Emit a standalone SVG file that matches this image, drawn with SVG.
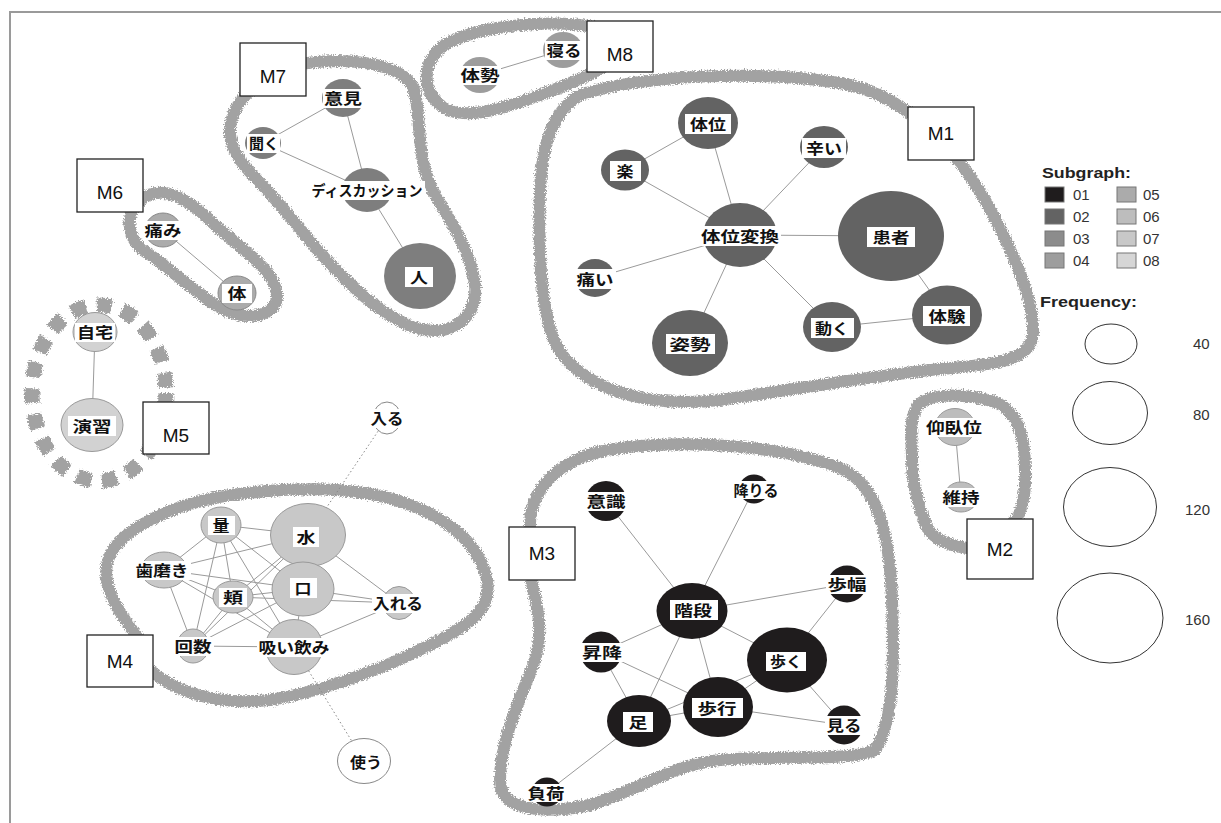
<svg xmlns="http://www.w3.org/2000/svg" width="1221" height="823" viewBox="0 0 1221 823">
<style>
.frame{stroke:#9a9a9a;stroke-width:2;fill:none}
.hull{fill:none;stroke:#a2a2a2;stroke-width:12;stroke-linecap:round;stroke-linejoin:round}
.hull5{fill:none;stroke:#a2a2a2;stroke-width:15;stroke-dasharray:15 11}
.e{stroke:#9a9a9a;stroke-width:1;fill:none}
.ed{stroke:#888;stroke-width:1;stroke-dasharray:1.5 2.5;fill:none}
.c1{fill:#1f1c1d}
.c2{fill:#636363}
.c3{fill:#7e7e7e}
.c4{fill:#9d9d9d}
.c5{fill:#ababab;stroke:#8a8a8a;stroke-width:1}
.c6{fill:#bdbdbd;stroke:#999;stroke-width:1}
.c7{fill:#c8c8c8;stroke:#999;stroke-width:1}
.c8{fill:#d2d2d2;stroke:#999;stroke-width:1}
.cw{fill:#fff;stroke:#888;stroke-width:1}
.lb{fill:#fff}
.t{font-family:"Noto Sans CJK JP","Noto Sans CJK SC",sans-serif;font-weight:bold;font-size:15px;fill:#111;text-anchor:middle}
.mbox{fill:#fff;stroke:#222;stroke-width:1.3}
.mt{font-family:"Liberation Sans",Arial,sans-serif;font-size:19px;fill:#111;text-anchor:middle}
.lg{font-family:"Liberation Sans",Arial,sans-serif;font-size:15px;fill:#333}
.lgb{font-family:"Liberation Sans",Arial,sans-serif;font-size:15px;font-weight:bold;fill:#222}
.sq{stroke:#777;stroke-width:1}
.fc{fill:#fff;stroke:#333;stroke-width:1}
</style>
<defs>
<filter id="rough" filterUnits="userSpaceOnUse" x="0" y="0" width="1221" height="823">
<feTurbulence type="fractalNoise" baseFrequency="0.7" numOctaves="2" seed="4" result="n"/>
<feDisplacementMap in="SourceGraphic" in2="n" scale="6" xChannelSelector="R" yChannelSelector="G"/>
</filter>
</defs>
<rect width="1221" height="823" fill="#fff"/>
<path class="frame" d="M10 823 V12 H1221"/>

<g id="hulls" filter="url(#rough)">
<path id="hull-M7" class="hull" d="M 262 80 C 275 68, 290 64, 300 64 C 340 58, 395 60, 412 85 C 422 105, 415 150, 430 185 C 445 215, 470 245, 475 285 C 478 315, 455 335, 425 330 C 395 325, 360 295, 333 267 C 310 243, 290 215, 265 188 C 245 168, 228 150, 230 128 C 232 105, 250 90, 262 80 Z"/>
<path id="hull-M6" class="hull" d="M 145 197 C 165 185, 190 200, 215 225 C 245 252, 275 270, 277 295 C 278 315, 250 322, 225 310 C 200 298, 175 272, 150 255 C 128 242, 120 215, 145 197 Z"/>
<path id="hull-M8" class="hull" d="M 600 28 C 550 18, 480 26, 448 43 C 425 56, 418 85, 440 105 C 460 122, 500 110, 540 95 C 565 86, 585 78, 605 66"/>
<path id="hull-M1" class="hull" d="M 580 95 C 640 75, 760 70, 840 83 C 900 93, 950 140, 985 200 C 1010 245, 1035 300, 1033 335 C 1030 365, 980 365, 930 370 C 860 378, 790 390, 720 400 C 650 408, 590 392, 560 352 C 540 320, 538 250, 540 190 C 542 140, 555 110, 580 95 Z"/>
<path id="hull-M2" class="hull" d="M 985 548 C 965 550, 935 545, 926 525 C 918 505, 912 480, 912 460 C 912 440, 908 420, 918 405 C 930 393, 965 393, 995 402 C 1020 412, 1025 440, 1025 470 C 1026 495, 1022 520, 1005 530"/>
<path id="hull-M4" class="hull" d="M 140 640 C 120 615, 100 585, 108 560 C 118 530, 170 505, 230 495 C 290 487, 360 485, 410 505 C 450 520, 480 545, 487 580 C 492 610, 470 625, 430 645 C 390 665, 330 690, 270 700 C 220 705, 180 695, 150 670"/>
<path id="hull-M3" class="hull" d="M 530 530 C 528 490, 560 455, 620 448 C 690 440, 780 445, 840 468 C 880 485, 890 540, 892 600 C 894 660, 895 720, 875 750 C 850 762, 780 755, 720 760 C 670 765, 640 790, 590 805 C 540 815, 500 810, 500 780 C 500 740, 520 700, 535 660 C 545 625, 535 600, 530 575"/>
<ellipse id="hull-M5" class="hull5" cx="99" cy="393" rx="67" ry="88"/>
</g>

<g id="connectors">
<line class="e" x1="708" y1="123" x2="625" y2="170"/>
<line class="e" x1="708" y1="123" x2="740" y2="235"/>
<line class="e" x1="625" y1="170" x2="740" y2="235"/>
<line class="e" x1="824" y1="147" x2="740" y2="235"/>
<line class="e" x1="740" y1="235" x2="891" y2="236"/>
<line class="e" x1="740" y1="235" x2="595" y2="278"/>
<line class="e" x1="740" y1="235" x2="690" y2="343"/>
<line class="e" x1="740" y1="235" x2="832" y2="327"/>
<line class="e" x1="832" y1="327" x2="947" y2="315"/>
<line class="e" x1="891" y1="236" x2="947" y2="315"/>
<line class="e" x1="343" y1="98" x2="263" y2="143"/>
<line class="e" x1="343" y1="98" x2="367" y2="190"/>
<line class="e" x1="263" y1="143" x2="367" y2="190"/>
<line class="e" x1="367" y1="190" x2="420" y2="276"/>
<line class="e" x1="163" y1="230" x2="237" y2="293"/>
<line class="e" x1="480" y1="75" x2="563" y2="50"/>
<line class="e" x1="955" y1="427" x2="961" y2="497"/>
<line class="e" x1="95" y1="332" x2="92" y2="425"/>
<line class="e" x1="221" y1="525" x2="308" y2="535"/>
<line class="e" x1="221" y1="525" x2="164" y2="570"/>
<line class="e" x1="221" y1="525" x2="233" y2="597"/>
<line class="e" x1="221" y1="525" x2="193" y2="646"/>
<line class="e" x1="221" y1="525" x2="303" y2="589"/>
<line class="e" x1="221" y1="525" x2="294" y2="647"/>
<line class="e" x1="164" y1="570" x2="308" y2="535"/>
<line class="e" x1="164" y1="570" x2="303" y2="589"/>
<line class="e" x1="164" y1="570" x2="233" y2="597"/>
<line class="e" x1="164" y1="570" x2="193" y2="646"/>
<line class="e" x1="164" y1="570" x2="294" y2="647"/>
<line class="e" x1="233" y1="597" x2="308" y2="535"/>
<line class="e" x1="233" y1="597" x2="303" y2="589"/>
<line class="e" x1="233" y1="597" x2="193" y2="646"/>
<line class="e" x1="233" y1="597" x2="294" y2="647"/>
<line class="e" x1="233" y1="597" x2="399" y2="603"/>
<line class="e" x1="193" y1="646" x2="303" y2="589"/>
<line class="e" x1="193" y1="646" x2="308" y2="535"/>
<line class="e" x1="193" y1="646" x2="294" y2="647"/>
<line class="e" x1="308" y1="535" x2="399" y2="603"/>
<line class="e" x1="303" y1="589" x2="399" y2="603"/>
<line class="e" x1="294" y1="647" x2="399" y2="603"/>
<line class="e" x1="303" y1="589" x2="294" y2="647"/>
<line class="ed" x1="387" y1="418" x2="308" y2="535"/>
<line class="ed" x1="294" y1="647" x2="364" y2="761"/>
<line class="e" x1="606" y1="501" x2="692" y2="611"/>
<line class="e" x1="754" y1="489" x2="692" y2="611"/>
<line class="e" x1="847" y1="584" x2="692" y2="611"/>
<line class="e" x1="847" y1="584" x2="787" y2="660"/>
<line class="e" x1="692" y1="611" x2="787" y2="660"/>
<line class="e" x1="692" y1="611" x2="601" y2="652"/>
<line class="e" x1="692" y1="611" x2="639" y2="721"/>
<line class="e" x1="692" y1="611" x2="718" y2="707"/>
<line class="e" x1="601" y1="652" x2="639" y2="721"/>
<line class="e" x1="601" y1="652" x2="718" y2="707"/>
<line class="e" x1="639" y1="721" x2="718" y2="707"/>
<line class="e" x1="639" y1="721" x2="787" y2="660"/>
<line class="e" x1="718" y1="707" x2="787" y2="660"/>
<line class="e" x1="787" y1="660" x2="844" y2="725"/>
<line class="e" x1="718" y1="707" x2="844" y2="725"/>
<line class="e" x1="639" y1="721" x2="547" y2="792"/>
</g>

<g id="n-taii"><ellipse class="c2" cx="708" cy="123" rx="30" ry="26"/><rect class="lb" x="685" y="114" width="46" height="20"/><text class="t" x="708" y="130" textLength="36" lengthAdjust="spacingAndGlyphs">体位</text></g>
<g id="n-tsurai"><ellipse class="c2" cx="824" cy="147" rx="24" ry="21"/><rect class="lb" x="802" y="138" width="44" height="20"/><text class="t" x="824" y="154" textLength="36" lengthAdjust="spacingAndGlyphs">辛い</text></g>
<g id="n-raku"><ellipse class="c2" cx="625" cy="170" rx="24" ry="20.5"/><rect class="lb" x="610" y="161" width="31" height="20"/><text class="t" x="625" y="177" textLength="17" lengthAdjust="spacingAndGlyphs">楽</text></g>
<g id="n-taiihenkan"><ellipse class="c2" cx="740" cy="235" rx="37" ry="32"/><rect class="lb" x="699" y="226" width="82" height="20"/><text class="t" x="740" y="242" textLength="78" lengthAdjust="spacingAndGlyphs">体位変換</text></g>
<g id="n-kanja"><ellipse class="c2" cx="891" cy="236" rx="53" ry="45"/><rect class="lb" x="867" y="227" width="48" height="20"/><text class="t" x="891" y="243" textLength="37" lengthAdjust="spacingAndGlyphs">患者</text></g>
<g id="n-itai"><ellipse class="c2" cx="595" cy="278" rx="20" ry="19"/><rect class="lb" x="574" y="269" width="42" height="20"/><text class="t" x="595" y="285" textLength="37" lengthAdjust="spacingAndGlyphs">痛い</text></g>
<g id="n-shisei"><ellipse class="c2" cx="690" cy="343" rx="38" ry="33"/><rect class="lb" x="666" y="334" width="49" height="20"/><text class="t" x="690" y="350" textLength="41" lengthAdjust="spacingAndGlyphs">姿勢</text></g>
<g id="n-ugoku"><ellipse class="c2" cx="832" cy="327" rx="29" ry="25"/><rect class="lb" x="811" y="318" width="43" height="20"/><text class="t" x="832" y="334" textLength="34" lengthAdjust="spacingAndGlyphs">動く</text></g>
<g id="n-taiken"><ellipse class="c2" cx="947" cy="315" rx="35" ry="29.5"/><rect class="lb" x="923" y="306" width="47" height="20"/><text class="t" x="947" y="322" textLength="37" lengthAdjust="spacingAndGlyphs">体験</text></g>

<g id="n-iken"><ellipse class="c3" cx="343" cy="98" rx="21" ry="19"/><rect class="lb" x="323" y="89" width="41" height="19"/><text class="t" x="343" y="104" textLength="38" lengthAdjust="spacingAndGlyphs">意見</text></g>
<g id="n-kiku"><ellipse class="c3" cx="263" cy="143" rx="18" ry="16"/><rect class="lb" x="247" y="134" width="33" height="19"/><text class="t" x="264" y="149" textLength="30" lengthAdjust="spacingAndGlyphs">聞く</text></g>
<g id="n-discussion"><ellipse class="c3" cx="367" cy="190" rx="25" ry="22"/><rect class="lb" x="310" y="181" width="115" height="19"/><text class="t" x="367" y="196" textLength="111" lengthAdjust="spacingAndGlyphs">ディスカッション</text></g>
<g id="n-hito"><ellipse class="c3" cx="420" cy="276" rx="36" ry="33"/><rect class="lb" x="405" y="267" width="28" height="20"/><text class="t" x="419" y="283" textLength="18" lengthAdjust="spacingAndGlyphs">人</text></g>

<g id="n-itami"><ellipse class="c5" cx="163" cy="230" rx="18" ry="17"/><rect class="lb" x="143" y="221" width="40" height="19"/><text class="t" x="163" y="236" textLength="37" lengthAdjust="spacingAndGlyphs">痛み</text></g>
<g id="n-karada"><ellipse class="c5" cx="237" cy="293" rx="19" ry="17"/><rect class="lb" x="222" y="284" width="30" height="19"/><text class="t" x="237" y="299" textLength="19" lengthAdjust="spacingAndGlyphs">体</text></g>

<g id="n-taisei"><ellipse class="c4" cx="480" cy="75" rx="20" ry="18"/><rect class="lb" x="459" y="66" width="42" height="19"/><text class="t" x="480" y="81" textLength="39" lengthAdjust="spacingAndGlyphs">体勢</text></g>
<g id="n-neru"><ellipse class="c4" cx="563" cy="50" rx="20" ry="18"/><rect class="lb" x="545" y="41" width="38" height="19"/><text class="t" x="564" y="56" textLength="35" lengthAdjust="spacingAndGlyphs">寝る</text></g>

<g id="n-gyogaii"><ellipse class="c6" cx="955" cy="427" rx="20" ry="18.5"/><rect class="lb" x="925" y="418" width="59" height="19"/><text class="t" x="954" y="433" textLength="56" lengthAdjust="spacingAndGlyphs">仰臥位</text></g>
<g id="n-iji"><ellipse class="c6" cx="961" cy="497" rx="17" ry="15"/><rect class="lb" x="942" y="488" width="40" height="19"/><text class="t" x="961" y="503" textLength="37" lengthAdjust="spacingAndGlyphs">維持</text></g>

<g id="n-jitaku"><ellipse class="c8" cx="95" cy="332" rx="22" ry="19.5"/><rect class="lb" x="75" y="323" width="40" height="19"/><text class="t" x="95" y="338" textLength="36" lengthAdjust="spacingAndGlyphs">自宅</text></g>
<g id="n-enshu"><ellipse class="c8" cx="92" cy="425" rx="31" ry="26.5"/><rect class="lb" x="68" y="416" width="48" height="20"/><text class="t" x="92" y="432" textLength="39" lengthAdjust="spacingAndGlyphs">演習</text></g>

<g id="n-ryo"><ellipse class="c7" cx="221" cy="525" rx="20" ry="18"/><rect class="lb" x="208" y="516" width="27" height="19"/><text class="t" x="221" y="531" textLength="17" lengthAdjust="spacingAndGlyphs">量</text></g>
<g id="n-mizu"><ellipse class="c7" cx="308" cy="535" rx="37.5" ry="31.5"/><rect class="lb" x="293" y="527" width="26" height="20"/><text class="t" x="306" y="543" textLength="19" lengthAdjust="spacingAndGlyphs">水</text></g>
<g id="n-hamigaki"><ellipse class="c7" cx="164" cy="570" rx="23" ry="18"/><rect class="lb" x="134" y="561" width="57" height="19"/><text class="t" x="162" y="576" textLength="53" lengthAdjust="spacingAndGlyphs">歯磨き</text></g>
<g id="n-hoho"><ellipse class="c7" cx="233" cy="597" rx="20" ry="16"/><rect class="lb" x="219" y="588" width="28" height="19"/><text class="t" x="233" y="603" textLength="20" lengthAdjust="spacingAndGlyphs">頬</text></g>
<g id="n-kuchi"><ellipse class="c7" cx="303" cy="589" rx="31" ry="27"/><rect class="lb" x="290" y="578" width="27" height="20"/><text class="t" x="303" y="594" textLength="17" lengthAdjust="spacingAndGlyphs">口</text></g>
<g id="n-ireru"><ellipse class="c7" cx="399" cy="603" rx="16" ry="16.5"/><rect class="lb" x="372" y="594" width="53" height="19"/><text class="t" x="398" y="609" textLength="50" lengthAdjust="spacingAndGlyphs">入れる</text></g>
<g id="n-kaisu"><ellipse class="c7" cx="193" cy="646" rx="16" ry="17"/><rect class="lb" x="174" y="637" width="40" height="19"/><text class="t" x="193" y="652" textLength="37" lengthAdjust="spacingAndGlyphs">回数</text></g>
<g id="n-suinomi"><ellipse class="c7" cx="294" cy="647" rx="28.5" ry="27.5"/><rect class="lb" x="257" y="638" width="75" height="19"/><text class="t" x="294" y="653" textLength="71" lengthAdjust="spacingAndGlyphs">吸い飲み</text></g>
<g id="n-hairu"><ellipse class="cw" cx="387" cy="418" rx="14" ry="16"/><rect class="lb" x="370" y="409" width="35" height="19"/><text class="t" x="387" y="424" textLength="33" lengthAdjust="spacingAndGlyphs">入る</text></g>
<g id="n-tsukau"><ellipse class="cw" cx="364" cy="761" rx="26.5" ry="22.5"/><rect class="lb" x="348" y="752" width="35" height="19"/><text class="t" x="366" y="768" textLength="32" lengthAdjust="spacingAndGlyphs">使う</text></g>

<g id="n-ishiki"><ellipse class="c1" cx="606" cy="501" rx="20.5" ry="20"/><rect class="lb" x="585" y="492" width="43" height="19"/><text class="t" x="606" y="507" textLength="39" lengthAdjust="spacingAndGlyphs">意識</text></g>
<g id="n-oriru"><ellipse class="c1" cx="754" cy="489" rx="15" ry="14.5"/><rect class="lb" x="733" y="481" width="47" height="18"/><text class="t" x="756" y="496" textLength="45" lengthAdjust="spacingAndGlyphs">降りる</text></g>
<g id="n-kaidan"><ellipse class="c1" cx="692" cy="611" rx="35.5" ry="28"/><rect class="lb" x="670" y="600" width="48" height="20"/><text class="t" x="693" y="616" textLength="38" lengthAdjust="spacingAndGlyphs">階段</text></g>
<g id="n-hohaba"><ellipse class="c1" cx="847" cy="584" rx="19.5" ry="18.5"/><rect class="lb" x="826" y="575" width="43" height="19"/><text class="t" x="847" y="590" textLength="39" lengthAdjust="spacingAndGlyphs">歩幅</text></g>
<g id="n-shoko"><ellipse class="c1" cx="601" cy="652" rx="21" ry="20.5"/><rect class="lb" x="580" y="643" width="44" height="19"/><text class="t" x="602" y="658" textLength="40" lengthAdjust="spacingAndGlyphs">昇降</text></g>
<g id="n-aruku"><ellipse class="c1" cx="787" cy="660" rx="40" ry="32.5"/><rect class="lb" x="766" y="652" width="40" height="19"/><text class="t" x="786" y="667" textLength="32" lengthAdjust="spacingAndGlyphs">歩く</text></g>
<g id="n-ashi"><ellipse class="c1" cx="639" cy="721" rx="32" ry="26"/><rect class="lb" x="623" y="712" width="30" height="20"/><text class="t" x="638" y="728" textLength="19" lengthAdjust="spacingAndGlyphs">足</text></g>
<g id="n-hoko"><ellipse class="c1" cx="718" cy="707" rx="35" ry="30"/><rect class="lb" x="692" y="698" width="51" height="20"/><text class="t" x="717" y="714" textLength="39" lengthAdjust="spacingAndGlyphs">歩行</text></g>
<g id="n-miru"><ellipse class="c1" cx="844" cy="725" rx="19" ry="19.5"/><rect class="lb" x="825" y="716" width="39" height="19"/><text class="t" x="844" y="731" textLength="35" lengthAdjust="spacingAndGlyphs">見る</text></g>
<g id="n-fuka"><ellipse class="c1" cx="547" cy="792" rx="15" ry="14.5"/><rect class="lb" x="526" y="784" width="41" height="18"/><text class="t" x="546" y="799" textLength="37" lengthAdjust="spacingAndGlyphs">負荷</text></g>

<g id="m-M1"><rect class="mbox" x="908" y="107" width="66" height="53"/><text class="mt" x="941" y="140">M1</text></g>
<g id="m-M2"><rect class="mbox" x="967" y="519" width="66" height="60"/><text class="mt" x="1000" y="556">M2</text></g>
<g id="m-M3"><rect class="mbox" x="509" y="527" width="66" height="53"/><text class="mt" x="542" y="560">M3</text></g>
<g id="m-M4"><rect class="mbox" x="87" y="635" width="66" height="52"/><text class="mt" x="120" y="668">M4</text></g>
<g id="m-M5"><rect class="mbox" x="143" y="402" width="66" height="52"/><text class="mt" x="176" y="442">M5</text></g>
<g id="m-M6"><rect class="mbox" x="77" y="159" width="66" height="53"/><text class="mt" x="110" y="199">M6</text></g>
<g id="m-M7"><rect class="mbox" x="240" y="43" width="66" height="53"/><text class="mt" x="273" y="83">M7</text></g>
<g id="m-M8"><rect class="mbox" x="587" y="21" width="66" height="51"/><text class="mt" x="620" y="61">M8</text></g>

<g id="legend-subgraph">
<text class="lgb" x="1042" y="178" textLength="89" lengthAdjust="spacingAndGlyphs">Subgraph:</text>
<rect class="sq" x="1045" y="187" width="19" height="15" fill="#1f1c1d"/><text class="lg" x="1073" y="200">01</text>
<rect class="sq" x="1045" y="209" width="19" height="15" fill="#636363"/><text class="lg" x="1073" y="222">02</text>
<rect class="sq" x="1045" y="231" width="19" height="15" fill="#8c8c8c"/><text class="lg" x="1073" y="244">03</text>
<rect class="sq" x="1045" y="253" width="19" height="15" fill="#9d9d9d"/><text class="lg" x="1073" y="266">04</text>
<rect class="sq" x="1117" y="187" width="19" height="15" fill="#ababab"/><text class="lg" x="1143" y="200">05</text>
<rect class="sq" x="1117" y="209" width="19" height="15" fill="#bdbdbd"/><text class="lg" x="1143" y="222">06</text>
<rect class="sq" x="1117" y="231" width="19" height="15" fill="#c8c8c8"/><text class="lg" x="1143" y="244">07</text>
<rect class="sq" x="1117" y="253" width="19" height="15" fill="#d6d6d6"/><text class="lg" x="1143" y="266">08</text>
</g>
<g id="legend-frequency">
<text class="lgb" x="1040" y="307" textLength="97" lengthAdjust="spacingAndGlyphs">Frequency:</text>
<ellipse class="fc" cx="1111" cy="344" rx="26" ry="20"/><text class="lg" x="1193" y="349">40</text>
<ellipse class="fc" cx="1110" cy="413" rx="37.5" ry="31.5"/><text class="lg" x="1193" y="420">80</text>
<ellipse class="fc" cx="1110" cy="507" rx="46.5" ry="39.5"/><text class="lg" x="1185" y="515">120</text>
<ellipse class="fc" cx="1110" cy="618" rx="53" ry="45"/><text class="lg" x="1185" y="625">160</text>
</g>
</svg>
